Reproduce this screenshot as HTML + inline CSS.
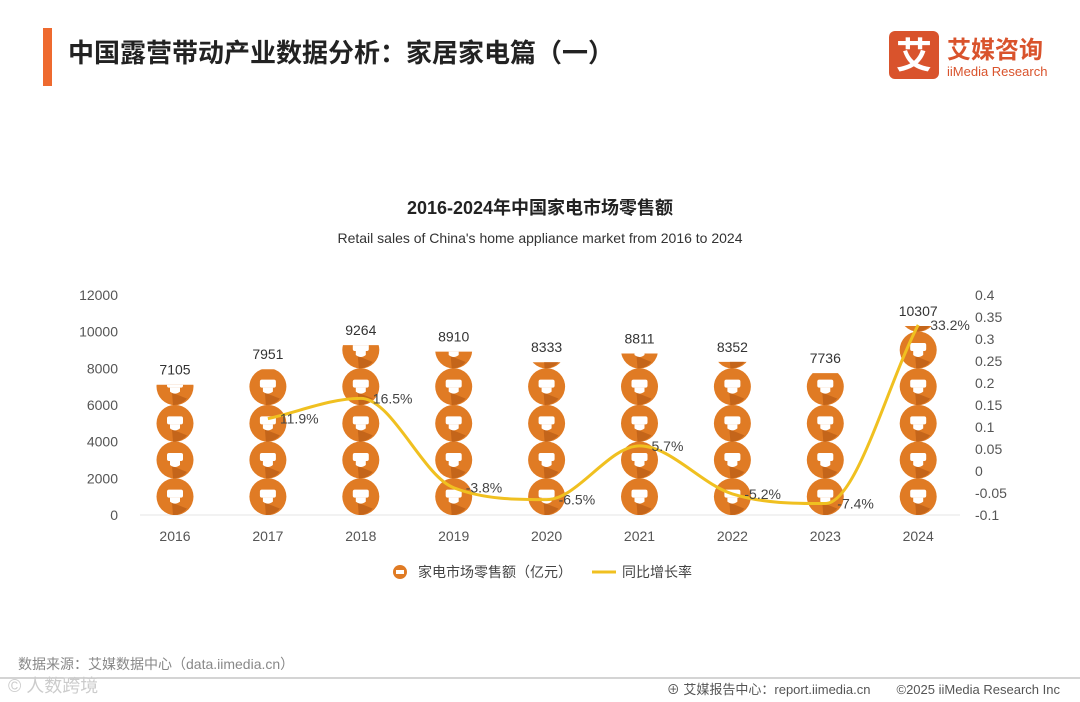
<!DOCTYPE html>
<html><head><meta charset="utf-8"><style>
body{margin:0;width:1080px;height:702px;background:#fff;overflow:hidden;font-family:"Liberation Sans","Noto Sans CJK SC",sans-serif;}
svg{display:block}
</style></head><body>
<svg id="c" width="1080" height="702">
<rect x="43" y="28" width="9" height="58" fill="#ee6a2f"/>
<text x="68" y="62" font-size="26" font-weight="bold" fill="#222">中国露营带动产业数据分析：家居家电篇（一）</text>
<g>
<rect x="889" y="31" width="50" height="48" rx="6" fill="#d9532c"/>
<text x="914" y="68" font-size="36" font-weight="bold" fill="#fff" text-anchor="middle">艾</text>
<text x="947" y="58" font-size="24" font-weight="bold" fill="#d9532c">艾媒咨询</text>
<text x="947" y="76" font-size="13" fill="#d9532c">iiMedia Research</text>
</g>
<text x="540" y="214" font-size="18" font-weight="bold" fill="#222" text-anchor="middle">2016-2024年中国家电市场零售额</text>
<text x="540" y="243" font-size="14" fill="#333" text-anchor="middle">Retail sales of China's home appliance market from 2016 to 2024</text>
<line x1="140" y1="515" x2="960" y2="515" stroke="#e5e5e5"/>
<g id="g"></g>
<g>
<circle cx="400" cy="572" r="7" fill="#e07b24"/><rect x="396" y="570" width="8" height="4" fill="#fff"/>
<text x="418" y="577" font-size="14" fill="#444">家电市场零售额（亿元）</text>
<line x1="592" y1="572" x2="616" y2="572" stroke="#f0c020" stroke-width="3"/>
<text x="622" y="577" font-size="14" fill="#444">同比增长率</text>
</g>
<text x="18" y="669" font-size="14" fill="#888">数据来源：艾媒数据中心（data.iimedia.cn）</text>
<line x1="0" y1="678" x2="1080" y2="678" stroke="#aaa"/>
<text x="8" y="692" font-size="18" fill="#ccc">© 人数跨境</text>
<text x="1060" y="694" font-size="13" fill="#555" text-anchor="end">⊕ 艾媒报告中心：report.iimedia.cn　　©2025  iiMedia Research  Inc</text>
</svg>
<script>
const years=["2016","2017","2018","2019","2020","2021","2022","2023","2024"];
const sales=[7105,7951,9264,8910,8333,8811,8352,7736,10307];
const growth=[null,0.119,0.165,-0.038,-0.065,0.057,-0.052,-0.074,0.332];
const growthLabels=["","11.9%","16.5%","-3.8%","-6.5%","5.7%","-5.2%","-7.4%","33.2%"];
const leftTicks=[0,2000,4000,6000,8000,10000,12000];
const rightTicks=[-0.1,-0.05,0,0.05,0.1,0.15,0.2,0.25,0.3,0.35,0.4];
const NS="http://www.w3.org/2000/svg";
const g=document.getElementById('g');
const X=i=>175+i*92.9;
const Y=v=>515-v/12000*220;
const Y2=v=>515-(v+0.1)/0.5*220;
function el(t,a,p){const e=document.createElementNS(NS,t);for(const k in a)e.setAttribute(k,a[k]);(p||g).appendChild(e);return e;}
leftTicks.forEach(t=>{const e=el('text',{x:118,y:Y(t)+5,'font-size':14,fill:'#555','text-anchor':'end'});e.textContent=t;

});
rightTicks.forEach(t=>{const e=el('text',{x:975,y:Y2(t)+5,'font-size':14,fill:'#555'});e.textContent=String(+t.toFixed(2));

});
const defs=el('defs',{});
const step=2000*220/12000;
years.forEach((yr,i)=>{
  const cx=X(i);
  const cp=el('clipPath',{id:'cp'+i},defs);
  el('rect',{x:cx-25,y:Y(sales[i]),width:50,height:515-Y(sales[i])},cp);
  const bar=el('g',{'clip-path':'url(#cp'+i+')'});
  
  
  for(let k=0;k*2000<sales[i];k++){
    const cy=515-step*(k+0.5);
    el('circle',{cx:cx,cy:cy,r:18.5,fill:'#e07b24'},bar);
    el('path',{d:`M${cx-3} ${cy+6} L${cx+12} ${cy+12} A18.5 18.5 0 0 1 ${cx-2} ${cy+18.4} Z`,fill:'#c4651a'},bar);
    el('rect',{x:cx-8,y:cy-7,width:16,height:8,rx:2,fill:'#fff'},bar);
    el('path',{d:`M${cx-5} ${cy+1} h10 v4 q-5 4 -10 0 Z`,fill:'#fff'},bar);
  }
  const lb=el('text',{x:cx,y:Y(sales[i])-10,'font-size':14,fill:'#333','text-anchor':'middle'});
  lb.textContent=sales[i];
  
  
  const xl=el('text',{x:cx,y:541,'font-size':14,fill:'#555','text-anchor':'middle'});
  xl.textContent=yr;
  
  
});
const pts=[];growth.forEach((v,i)=>{if(v!==null)pts.push([X(i),Y2(v),i]);});
// monotone X cubic
const n=pts.length,dx=[],sl=[],m=[];
for(let j=0;j<n-1;j++){dx[j]=pts[j+1][0]-pts[j][0];sl[j]=(pts[j+1][1]-pts[j][1])/dx[j];}
m[0]=sl[0];m[n-1]=sl[n-2];
for(let j=1;j<n-1;j++){m[j]=(sl[j-1]*sl[j]<=0)?0:(sl[j-1]+sl[j])/2;
  const a=m[j]/sl[j-1],b=m[j]/sl[j];if(a>3||b>3){m[j]=3*Math.min(sl[j-1],sl[j],Infinity)*Math.sign(sl[j]);}}
let d=`M${pts[0][0]} ${pts[0][1]}`;
for(let j=0;j<n-1;j++){const h=dx[j]/3;
  d+=` C${pts[j][0]+h} ${pts[j][1]+m[j]*h} ${pts[j+1][0]-h} ${pts[j+1][1]-m[j+1]*h} ${pts[j+1][0]} ${pts[j+1][1]}`;}
const ln=el('path',{d:d,fill:'none',stroke:'#f0c020','stroke-width':3});


pts.forEach(p=>{const t=el('text',{x:p[0]+12,y:p[1]+5,'font-size':14,fill:'#444'});t.textContent=growthLabels[p[2]];

});
</script>
</body></html>
